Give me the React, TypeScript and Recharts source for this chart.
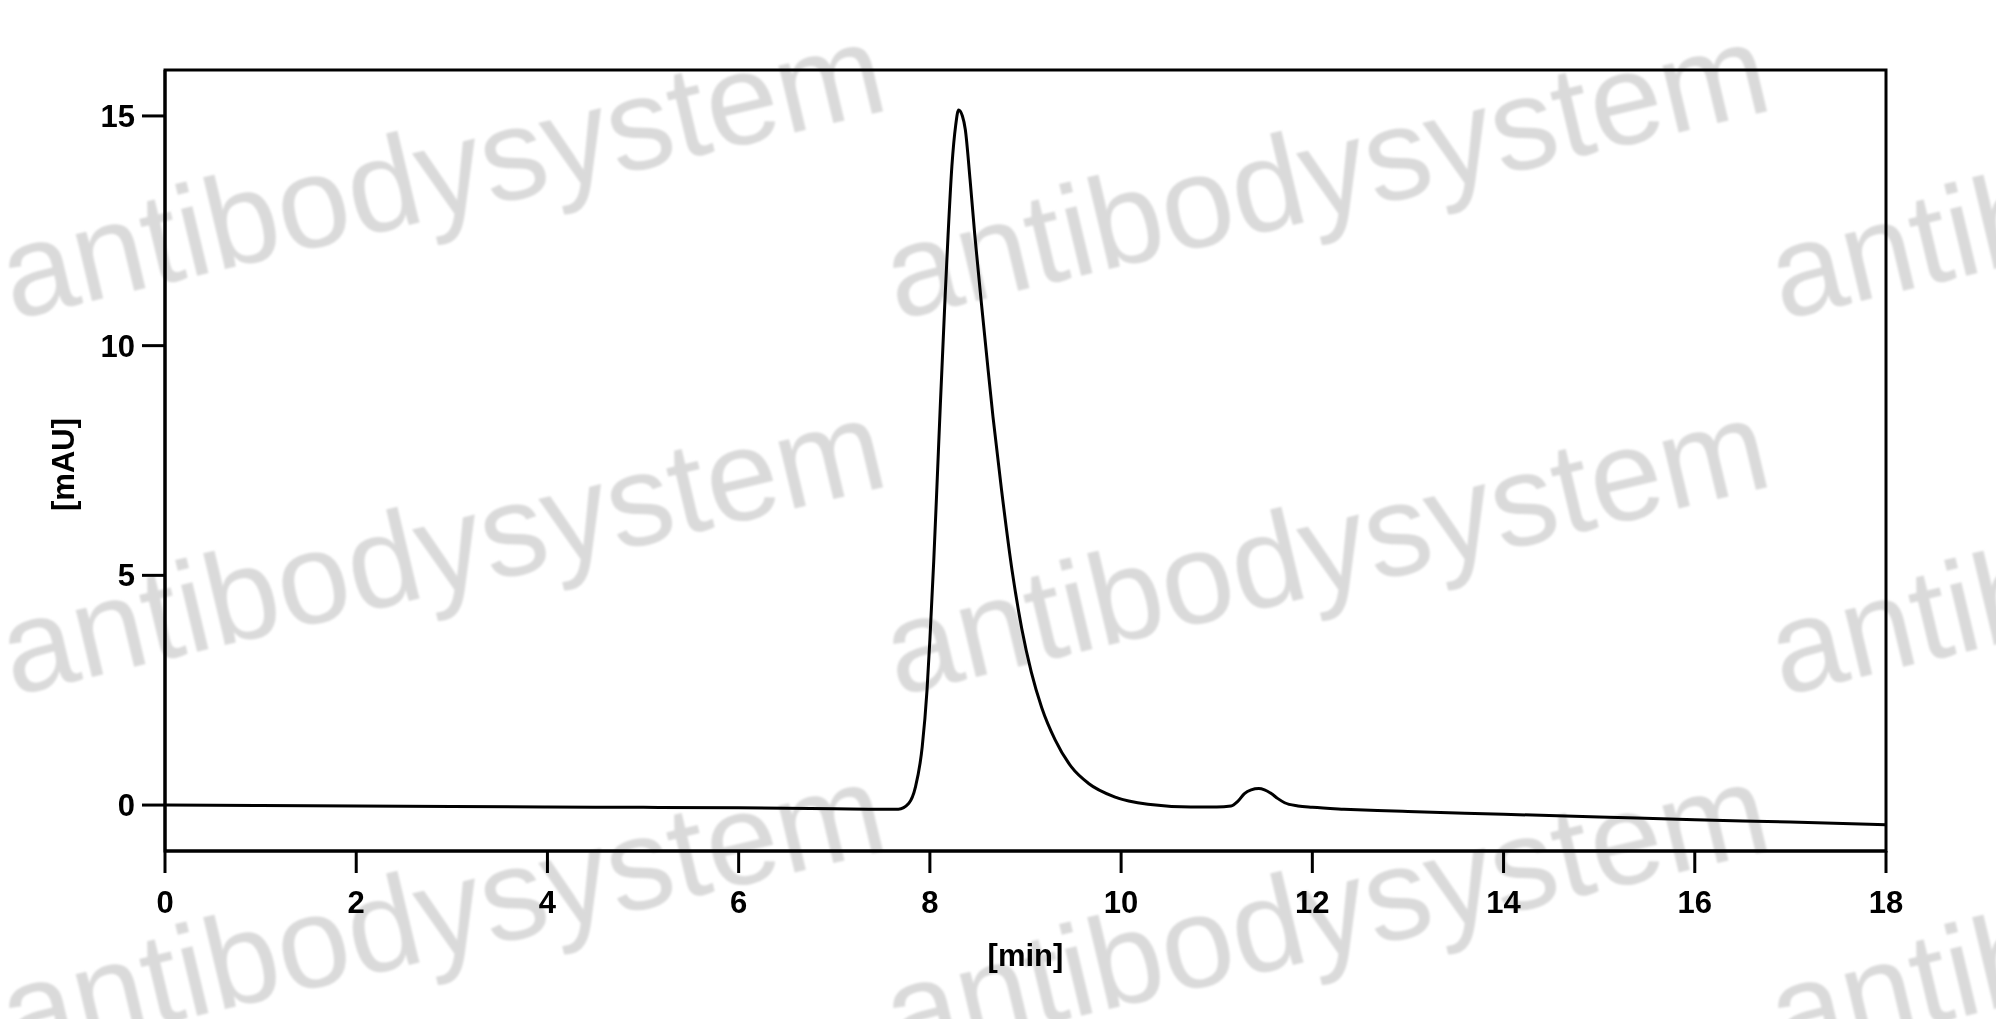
import { LineChart, Line, XAxis, YAxis, ReferenceArea } from 'recharts';

// retention time [min] and absorbance [mAU]
const TIME_MIN = [
  0, 1, 2, 3, 4, 5, 6, 7, 7.5, 7.67, 7.78, 7.85, 7.92, 7.97, 8.0, 8.04, 8.07, 8.11, 8.16, 8.19,
  8.23, 8.27, 8.3, 8.34, 8.37, 8.42, 8.47, 8.54, 8.61, 8.66, 8.75, 8.86, 8.96, 9.06, 9.17, 9.31,
  9.48, 9.66, 9.93, 10.28, 10.73, 11.0, 11.15, 11.22, 11.29, 11.36, 11.44, 11.5, 11.57, 11.64,
  11.71, 11.85, 12.0, 12.33, 12.68, 13, 14, 15, 16, 17, 18,
];
const SIGNAL_MAU = [
  0, -0.01, -0.02, -0.03, -0.04, -0.05, -0.06, -0.08, -0.09, -0.09, 0.04, 0.4, 1.27, 2.5, 3.6, 5.3, 6.75, 8.75, 11.1, 12.4,
  13.9, 14.8, 15.13, 15.0, 14.71, 13.62, 12.4, 10.9, 9.45, 8.45, 6.85, 5.1, 3.85, 2.9, 2.12, 1.42,
  0.83, 0.47, 0.18, 0.02, -0.04, -0.04, -0.02, 0.08, 0.25, 0.33, 0.36, 0.33, 0.25, 0.14,
  0.05, -0.02, -0.05, -0.09, -0.12, -0.14, -0.2, -0.26, -0.32, -0.37, -0.43,
];

const X_TICKS = [0, 2, 4, 6, 8, 10, 12, 14, 16, 18];
const Y_TICKS = [0, 5, 10, 15];
const X_DOMAIN: [number, number] = [0, 18];
const Y_DOMAIN: [number, number] = [-1, 16];
const X_TITLE = '[min]';
const Y_TITLE = '[mAU]';

const WATERMARK = 'antibodysystem';
const WM_COLS = [13, 897, 1782];
const WM_ROWS = [320, 696, 1060];

const FONT = '"Liberation Sans", Arial, sans-serif';
const tickStyle = { fill: '#000', fontSize: 31, fontWeight: 700, fontFamily: FONT };
const ink = { stroke: '#000', strokeWidth: 3 };

const data = TIME_MIN.map((t, i) => ({ t, v: SIGNAL_MAU[i] }));

function YTitle({ viewBox }: any) {
  const vb = viewBox || { x: 0, y: 70, width: 165, height: 781 };
  const cx = vb.x + 63;
  const cy = vb.y + vb.height / 2 + 4;
  return (
    <text
      x={cx}
      y={cy}
      transform={`rotate(-90 ${cx} ${cy})`}
      textAnchor="middle"
      dominantBaseline="central"
      style={{ fontFamily: FONT, fontSize: 31, fontWeight: 700, fill: '#000' }}
    >
      {Y_TITLE}
    </text>
  );
}

function XTitle({ viewBox }: any) {
  const vb = viewBox || { x: 165, y: 851, width: 1721, height: 168 };
  return (
    <text
      x={vb.x + vb.width / 2}
      y={vb.y + 104}
      textAnchor="middle"
      dominantBaseline="central"
      style={{ fontFamily: FONT, fontSize: 31, fontWeight: 700, fill: '#000' }}
    >
      {X_TITLE}
    </text>
  );
}

export default function App() {
  return (
    <div style={{ position: 'absolute', left: 0, top: 0, width: 1996, height: 1019, background: '#fff', overflow: 'hidden' }}>
      <svg width={1996} height={1019} style={{ position: 'absolute', left: 0, top: 0 }}>
        <defs>
          <filter id="soft">
            <feGaussianBlur stdDeviation="1.2" />
          </filter>
        </defs>
        <g filter="url(#soft)">
          {WM_ROWS.map(y =>
            WM_COLS.map(x => (
              <text
                key={`${x}-${y}`}
                x={x}
                y={y}
                transform={`rotate(-13.5 ${x} ${y})`}
                style={{ fontFamily: FONT, fontSize: 130, fill: '#dadada' }}
              >
                {WATERMARK}
              </text>
            ))
          )}
        </g>
      </svg>
      <div style={{ position: 'absolute', left: 0, top: 0 }}>
        <LineChart width={1996} height={1019} data={data} margin={{ top: 70, right: 110, left: 0, bottom: 0 }}>
          <XAxis
            dataKey="t"
            type="number"
            domain={X_DOMAIN}
            ticks={X_TICKS}
            height={168}
            tickSize={22}
            tickMargin={18}
            axisLine={ink}
            tickLine={ink}
            tick={tickStyle}
            label={<XTitle />}
          />
          <YAxis
            type="number"
            domain={Y_DOMAIN}
            ticks={Y_TICKS}
            width={165}
            tickSize={23}
            tickMargin={7}
            axisLine={ink}
            tickLine={ink}
            tick={tickStyle}
            label={<YTitle />}
          />
          <ReferenceArea x1={X_DOMAIN[0]} x2={X_DOMAIN[1]} y1={Y_DOMAIN[0]} y2={Y_DOMAIN[1]} fill="none" stroke="#000" strokeWidth={3} />
          <Line
            dataKey="v"
            type="monotone"
            stroke="#000"
            strokeWidth={3}
            dot={false}
            activeDot={false}
            isAnimationActive={false}
          />
        </LineChart>
      </div>
    </div>
  );
}
